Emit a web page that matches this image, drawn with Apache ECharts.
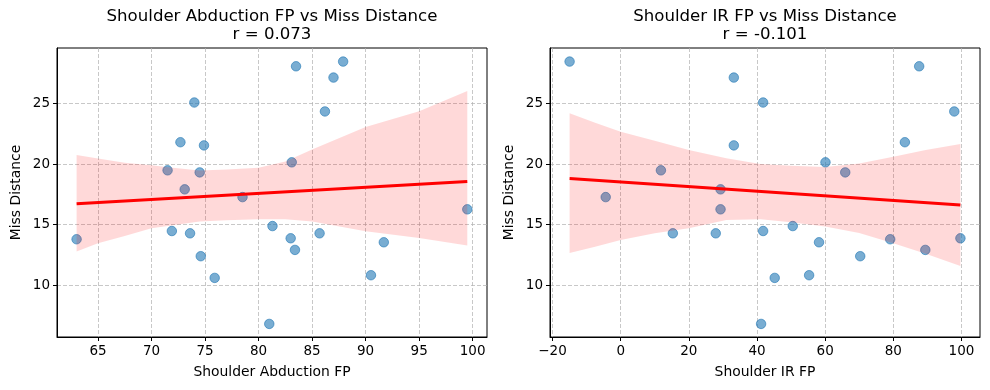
<!DOCTYPE html>
<html><head><meta charset="utf-8">
<script src="https://cdn.jsdelivr.net/npm/echarts@6/dist/echarts.min.js"></script>
<style>html,body{margin:0;padding:0;background:#fff}#c{width:990px;height:390px}</style>
</head><body><div id="c"></div>
<script>
// ---- data ----
const missDistance = [28.46, 28.07, 27.14, 25.08, 24.34, 21.8, 21.54, 20.14, 19.48, 19.31, 17.91, 17.27, 16.26, 14.88, 14.47, 14.28, 14.28, 13.87, 13.79, 13.54, 12.91, 12.39, 10.82, 10.6, 6.8];
const shoulderAbductionFP = [87.9, 83.5, 87.0, 74.0, 86.2, 72.7, 74.9, 83.1, 71.5, 74.5, 73.1, 78.5, 99.5, 81.3, 71.9, 73.6, 85.7, 83.0, 63.0, 91.7, 83.4, 74.6, 90.5, 75.9, 81.0];
const shoulderIrFP = [-15.0, 87.6, 33.2, 41.8, 97.9, 83.4, 33.2, 60.1, 11.8, 65.9, 29.3, -4.4, 29.3, 50.5, 41.8, 15.3, 27.9, 99.7, 79.1, 58.2, 89.4, 70.3, 55.3, 45.2, 41.2];

// confidence band edges
const abdBandX    = [63.0, 65, 67.5, 70, 72, 74.5, 77, 80, 82.5, 85, 90, 95, 99.5];
const abdBandHigh = [20.74, 20.45, 20.1, 19.9, 19.7, 19.47, 19.55, 19.7, 20.2, 21.2, 23.05, 24.35, 26.04];
const abdBandLow  = [12.77, 13.46, 14.06, 14.7, 14.95, 15.25, 15.35, 15.45, 15.45, 15.25, 14.45, 13.9, 13.28];
const irBandX     = [-15.0, -7.5, 0, 10, 20, 31, 41, 50, 60, 70, 80, 89.5, 99.7];
const irBandHigh  = [24.2, 23.4, 22.66, 21.92, 21.15, 20.47, 20.0, 19.85, 19.75, 20.05, 20.6, 21.15, 21.65];
const irBandLow   = [12.65, 13.18, 13.73, 14.28, 14.69, 15.38, 15.45, 15.2, 14.85, 14.3, 13.45, 12.6, 11.59];

// tick labels
const abdTicksX = [65, 70, 75, 80, 85, 90, 95, 100];
const irTicksX = [-20, 0, 20, 40, 60, 80, 100];
const ticksY = [10, 15, 20, 25];

const titles = ['Shoulder Abduction FP vs Miss Distance\nr = 0.073', 'Shoulder IR FP vs Miss Distance\nr = -0.101'];
const xNames = ['Shoulder Abduction FP', 'Shoulder IR FP'];
const yName = 'Miss Distance';

// ---- helpers ----
function linFit(xs, ys) {
  const n = xs.length;
  const mx = xs.reduce((a, b) => a + b, 0) / n;
  const my = ys.reduce((a, b) => a + b, 0) / n;
  let sxy = 0, sxx = 0;
  for (let i = 0; i < n; i++) { sxy += (xs[i] - mx) * (ys[i] - my); sxx += (xs[i] - mx) ** 2; }
  const b = sxy / sxx, a = my - b * mx;
  const x0 = Math.min(...xs), x1 = Math.max(...xs);
  return [[x0, a + b * x0], [x1, a + b * x1]];
}
const FONT = 'DejaVu Sans';
const fmt = v => (v < 0 ? '\u2212' + Math.abs(v) : String(v));

function bandSeries(idx, bx, lo, hi) {
  return {
    type: 'custom', xAxisIndex: idx, yAxisIndex: idx, z: 3, silent: true,
    data: bx.map((x, i) => [x, lo[i], hi[i]]),
    encode: { x: 0, y: [1, 2] },
    renderItem: function (params, api) {
      if (params.dataIndex !== 0) return null;
      const pts = [];
      for (let i = 0; i < bx.length; i++) pts.push(api.coord([bx[i], hi[i]]));
      for (let i = bx.length - 1; i >= 0; i--) pts.push(api.coord([bx[i], lo[i]]));
      return { type: 'polygon', shape: { points: pts }, style: { fill: 'rgba(255,0,0,0.15)', stroke: null } };
    }
  };
}
function scatterSeries(idx, xs) {
  return {
    type: 'scatter', xAxisIndex: idx, yAxisIndex: idx, z: 2, silent: true,
    symbolSize: 9.5,
    data: xs.map((x, i) => [x, missDistance[i]]),
    itemStyle: { color: 'rgba(31,119,180,0.6)', borderColor: 'rgba(31,119,180,0.6)', borderWidth: 1, opacity: 1 }
  };
}
function lineSeries(idx, xs) {
  return {
    type: 'line', xAxisIndex: idx, yAxisIndex: idx, z: 4, silent: true,
    showSymbol: false, symbol: 'none',
    data: linFit(xs, missDistance),
    lineStyle: { color: '#ff0000', width: 3 }
  };
}
function xAxis(idx, min, max, split, ticks, name) {
  return {
    gridIndex: idx, type: 'value', min: min, max: max, splitNumber: split,
    axisLine: { show: true, onZero: false, lineStyle: { color: '#000', width: 1 } },
    axisTick: { show: true, length: 4, customValues: ticks, lineStyle: { color: '#000', width: 1 } },
    axisLabel: { customValues: ticks, formatter: fmt, margin: 7, color: '#000', fontFamily: FONT, fontSize: 13.5 },
    splitLine: { show: true, lineStyle: { color: 'rgba(176,176,176,0.7)', width: 1, type: [4, 2] } },
    name: name, nameLocation: 'middle', nameGap: 28,
    nameTextStyle: { color: '#000', fontFamily: FONT, fontSize: 13.9 }
  };
}
function yAxis(idx) {
  return {
    gridIndex: idx, type: 'value', min: 5.72, max: 29.58, splitNumber: 5,
    axisLine: { show: true, onZero: false, lineStyle: { color: '#000', width: 1 } },
    axisTick: { show: true, length: 4, customValues: ticksY, lineStyle: { color: '#000', width: 1 } },
    axisLabel: { customValues: ticksY, formatter: fmt, margin: 7, color: '#000', fontFamily: FONT, fontSize: 13.5 },
    splitLine: { show: true, lineStyle: { color: 'rgba(176,176,176,0.7)', width: 1, type: [4, 2] } },
    name: yName, nameLocation: 'middle', nameGap: 34, nameRotate: 90,
    nameTextStyle: { color: '#000', fontFamily: FONT, fontSize: 13.9 }
  };
}

const chart = echarts.init(document.getElementById('c'), null, { renderer: 'canvas' });
chart.setOption({
  animation: false,
  backgroundColor: '#fff',
  title: [
    { text: titles[0], left: 272, top: 8, textAlign: 'center', padding: 0,
      textStyle: { fontFamily: FONT, fontSize: 16.6, fontWeight: 'normal', color: '#000', lineHeight: 17.5 } },
    { text: titles[1], left: 765, top: 8, textAlign: 'center', padding: 0,
      textStyle: { fontFamily: FONT, fontSize: 16.6, fontWeight: 'normal', color: '#000', lineHeight: 17.5 } }
  ],
  grid: [
    { left: 57, right: 503, top: 48, bottom: 53, show: true, borderColor: '#000', borderWidth: 1, backgroundColor: 'transparent' },
    { left: 550, right: 10, top: 48, bottom: 53, show: true, borderColor: '#000', borderWidth: 1, backgroundColor: 'transparent' }
  ],
  xAxis: [
    xAxis(0, 61.17, 101.34, 8, abdTicksX, xNames[0]),
    xAxis(1, -20.75, 105.45, 6, irTicksX, xNames[1])
  ],
  yAxis: [yAxis(0), yAxis(1)],
  series: [
    scatterSeries(0, shoulderAbductionFP),
    bandSeries(0, abdBandX, abdBandLow, abdBandHigh),
    lineSeries(0, shoulderAbductionFP),
    scatterSeries(1, shoulderIrFP),
    bandSeries(1, irBandX, irBandLow, irBandHigh),
    lineSeries(1, shoulderIrFP)
  ]
});
</script>
</body></html>
